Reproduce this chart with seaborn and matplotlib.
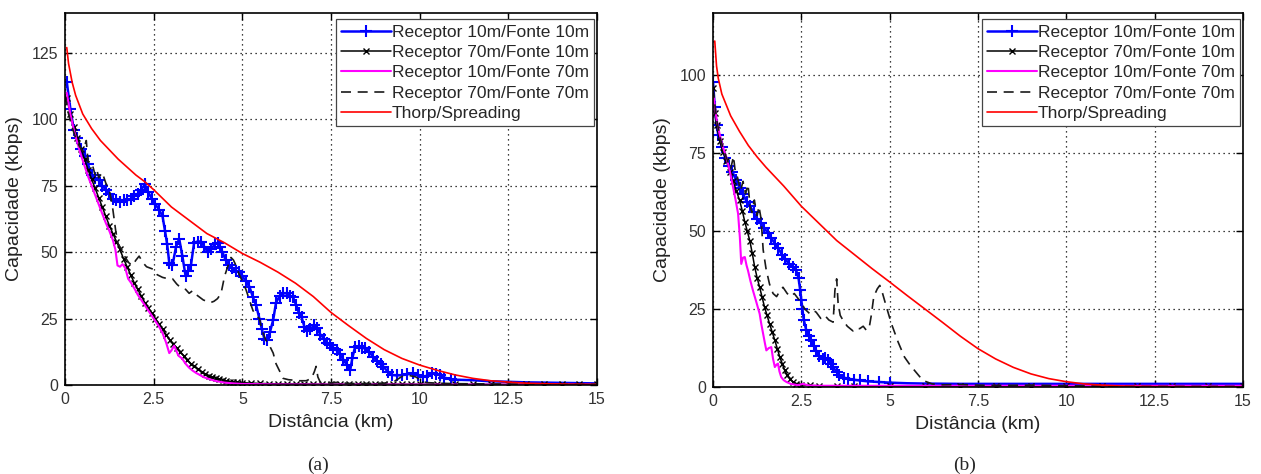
import numpy as np
import pandas as pd
import matplotlib
matplotlib.use("Agg")
import matplotlib.pyplot as plt
import seaborn as sns

# ---------------- data (a) ----------------
a_blue_x = [0.05,0.15,0.25,0.35,0.45,0.55,0.65,0.75,0.85,0.95,1.05,1.15,1.25,1.35,1.45,1.55,1.65,1.75,1.85,1.95,
            2.05,2.15,2.25,2.35,2.45,2.55,2.65,2.75,2.82,2.88,2.94,3.03,3.13,3.22,3.31,3.40,3.48,3.55,3.64,3.74,
            3.83,3.93,4.02,4.12,4.22,4.30,4.37,4.44,4.53,4.63,4.72,4.82,4.92,5.0,5.1,5.2,5.3,5.39,5.48,5.55,
            5.62,5.7,5.78,5.87,5.95,6.05,6.15,6.25,6.35,6.43,6.52,6.6,6.67,6.75,6.82,6.92,7.02,7.1,7.2,7.3,
            7.38,7.48,7.57,7.66,7.75,7.85,7.95,8.04,8.1,8.18,8.28,8.37,8.46,8.57,8.69,8.8,8.9,8.98,9.1,9.21,
            9.35,9.5,9.65,9.82,9.95,10.1,10.2,10.35,10.45,10.58,10.7,10.87,11.0,11.25,11.5,11.75,12.0,12.5,13.0,13.5,
            14.0,14.5,15.0]
a_blue_y = [114,104,96,93,89,86,83,79,78,77,75,73.5,72,70,69.5,69,69.5,69.5,70,71,
            72,73.5,75.5,72.5,70,68,66,63.5,58,53,46,45,52,55,48.5,41,43,45,53.5,54,
            54,52,50,51,53,53.5,52,50,47,45,44,43,42.5,41,39,37,33,30,25,21,
            17.5,17,20,24.5,31,33.5,34.5,34.5,33.5,33,30,27,25.5,22,20.5,21,22.5,21.5,19,17.5,
            15.8,15,14,13,11.5,9.5,7.5,5.5,10,14.4,14.5,14,13.8,12.5,10.6,9,7.8,6.9,5,3.8,
            3.6,3.7,4,4.4,3.8,3.0,3.5,4.4,4.2,3.7,2.8,2.1,2.0,1.9,1.8,1.6,1.4,1.2,1.0,0.9,
            0.8,0.7,0.6]

a_black_x = [0.05,0.15,0.25,0.35,0.45,0.55,0.65,0.75,0.85,0.95,1.05,1.15,1.25,1.35,1.45,1.55,1.65,1.75,1.85,1.95,
             2.05,2.15,2.25,2.35,2.45,2.55,2.65,2.75,2.85,2.95,3.05,3.15,3.25,3.35,3.45,3.55,3.65,3.75,3.85,3.95,
             4.05,4.15,4.25,4.35,4.45,4.55,4.65,4.75,4.85,5.0,5.25,5.5,5.75,6.0,6.25,6.5,6.75,7.0,7.25,7.5,
             7.75,8.0,8.25,8.5,8.75,9.0,9.25,9.5,9.75,10.0,10.5,11.0,11.5,12.0,12.5,13.0,13.5,14.0,14.5,15.0]
a_black_y = [108,102,97,93,89,85,81,77.5,74,70.5,67,63.5,60,57,54,51,47.5,44.5,41.5,38.5,
             36,33.5,31,29,27,25,23,21,19,17,15.5,14,12.5,11,9.5,8,7,6,5,4.2,
             3.5,3,2.5,2.1,1.8,1.5,1.3,1.1,1.0,0.9,0.7,0.6,0.5,0.45,0.4,0.4,0.35,0.35,0.3,0.3,
             0.3,0.3,0.3,0.3,0.3,0.3,0.3,0.3,0.3,0.3,0.25,0.25,0.25,0.25,0.25,0.25,0.25,0.25,0.25,0.25]

a_mag_x = [0.05,0.15,0.25,0.35,0.45,0.55,0.65,0.75,0.85,0.95,1.05,1.15,1.25,1.35,1.42,1.48,1.55,1.62,1.7,1.78,
           1.86,1.95,2.05,2.15,2.25,2.35,2.45,2.55,2.65,2.75,2.85,2.94,3.0,3.08,3.15,3.2,3.3,3.4,3.5,3.6,
           3.7,3.8,3.9,4.07,4.25,4.5,4.75,5.0,5.5,6.0,8.0,10.0,12.0,15.0]
a_mag_y = [110,102,96,91,86.5,82.5,78.5,75,71.5,68,64.5,61,58,54.5,51,45,44.5,45.5,44,40,
           38.5,36.5,34,32,30,28,26,24,22,19.5,16,12,13,14.8,12.5,11,10,8,6.5,5.4,
           4.5,3.8,3,2.2,1.5,0.9,0.6,0.4,0.3,0.2,0.15,0.15,0.15,0.15]

a_dash_x = [0.0,0.1,0.2,0.3,0.4,0.5,0.6,0.65,0.75,0.85,0.9,0.95,1.05,1.15,1.25,1.35,1.43,1.5,1.6,1.7,
            1.8,1.9,2.0,2.09,2.2,2.3,2.4,2.5,2.6,2.75,2.9,3.03,3.15,3.27,3.4,3.5,3.6,3.7,3.8,3.9,
            4.0,4.1,4.2,4.3,4.4,4.5,4.6,4.68,4.75,4.82,4.9,5.0,5.1,5.2,5.3,5.4,5.48,5.57,5.66,5.76,
            5.87,5.95,6.06,6.15,6.3,6.45,6.6,6.8,6.95,7.03,7.08,7.13,7.2,7.4,7.7,8.0,8.3,8.6,9.0,9.3,
            9.5,9.7,9.9,10.05,10.2,10.5,11.0,12.0,13.0,14.0,15.0]
a_dash_y = [109,102,97,93,90,88,92,84,84,79,81,78,80,76,73.5,66,58,53,51,48,
            46,45,47,48.5,46,44.5,44,43.5,41.5,40.5,40,40,38,36.5,36,34.5,35.5,34,33,32,
            31.5,31,31.5,32.5,34.5,41,45,48,47,45,42,39,36,32,28,26,25,20,17,15,
            12,8,5,2.5,2,1.8,1.6,1.6,2.5,5,7,3,1,0.8,1,0.6,0.5,0.6,0.7,1.5,
            3.2,3.6,3.0,1.5,0.9,0.7,0.5,0.4,0.3,0.3,0.3]

a_red_x = [0.05,0.1,0.2,0.3,0.5,0.75,1.0,1.25,1.5,1.75,2.0,2.25,2.5,3.0,3.5,4.0,4.5,5.0,5.5,6.0,
           6.5,7.0,7.5,8.0,8.5,9.0,9.5,10.0,10.5,11.0,11.5,12.0,12.5,13.0,13.5,14.0,14.5,15.0]
a_red_y = [127,121,114,109,102,96.5,92,88.5,85,82,79,76.5,73.5,67,62,57,53.5,49.5,46.2,42.5,
           38.3,33.3,27.3,22.3,17.5,13.3,10.0,7.5,5.5,3.8,2.5,1.6,1.1,0.7,0.5,0.35,0.25,0.2]

# ---------------- data (b) ----------------
b_blue_x = [0.0,0.05,0.1,0.15,0.25,0.35,0.45,0.55,0.65,0.75,0.85,0.95,1.05,1.15,1.25,1.35,1.45,1.55,1.65,1.75,
            1.85,1.95,2.05,2.15,2.25,2.35,2.42,2.47,2.5,2.53,2.57,2.64,2.71,2.78,2.85,2.92,3.0,3.1,3.18,3.25,
            3.33,3.4,3.5,3.58,3.7,3.82,4.0,4.15,4.4,4.7,5.0,5.5,6.0,7.0,8.0,9.0,10.0,11.0,12.0,13.0,
            14.0,15.0]
b_blue_y = [98,90,84,81,77,73.5,71,69,66.5,64,62,59.5,58,56,54,52.5,51,49.5,47.8,46,
            44.5,42.5,41,39.5,38.5,37.5,35,31,27.8,25,21.5,18.2,16.5,15,13.2,11.7,10,9,9.2,8.8,
            7.5,6.4,4.8,3.7,3.0,2.7,2.3,2.1,1.8,1.6,1.4,1.2,1.1,1.0,1.0,1.0,1.0,1.0,1.0,1.0,
            1.0,1.0]

b_black_x = [0.0,0.05,0.1,0.19,0.28,0.38,0.48,0.57,0.66,0.75,0.83,0.9,0.97,1.04,1.11,1.18,1.25,1.32,1.39,1.46,
             1.53,1.6,1.68,1.75,1.82,1.89,1.96,2.03,2.1,2.17,2.26,2.36,2.5,2.75,3.0,3.5,4.0,5.0,6.0,7.0,
             8.0,9.0,10.0,11.0,12.0,13.0,14.0,15.0]
b_black_y = [96,88,84,79,75.5,72.6,69,66,63,60,56.5,53,50,47,43,38.5,35,32,28.8,25.6,
             23,20.3,17.5,15,12.3,9.6,7.5,5.3,3.8,2.7,1.7,1.1,0.7,0.5,0.4,0.3,0.3,0.3,0.3,0.3,
             0.3,0.3,0.3,0.3,0.3,0.3,0.3,0.3]

b_mag_x = [0.02,0.1,0.19,0.28,0.38,0.48,0.57,0.64,0.71,0.76,0.8,0.85,0.9,0.95,0.99,1.06,1.13,1.22,1.32,1.37,
           1.42,1.47,1.51,1.58,1.65,1.7,1.75,1.8,1.84,1.88,1.93,2.0,2.08,2.2,2.4,2.55,2.7,3.0,4.0,6.0,
           8.0,10.0,12.0,15.0]
b_mag_y = [93,86,81,77,73.7,69,64,60,55.6,48,39.5,41.5,41.7,39,37.4,34,31,27.5,23.5,20,
           17,14,11.75,12.5,12.8,9,6.4,7.2,7.5,5,3.2,2.2,1.6,1.0,0.6,1.0,0.5,0.4,0.4,0.4,
           0.4,0.4,0.4,0.4]

b_dash_x = [0.0,0.1,0.2,0.3,0.4,0.5,0.58,0.62,0.7,0.78,0.85,0.92,0.99,1.05,1.1,1.17,1.25,1.3,1.36,1.42,
            1.5,1.6,1.7,1.8,1.9,1.98,2.1,2.2,2.3,2.4,2.5,2.6,2.74,2.85,2.92,3.05,3.16,3.28,3.4,3.45,
            3.5,3.54,3.6,3.68,3.8,3.96,4.05,4.15,4.25,4.34,4.42,4.48,4.55,4.65,4.72,4.8,4.9,5.05,5.24,5.42,
            5.55,5.66,5.8,5.94,6.2,6.5,7.0,7.5,8.0,9.0,10.0,11.0,12.0,15.0]
b_dash_y = [96,86,80,76,73,70,74,70,67,63,66,62,65,58,56,60,55,58,54,44,
            38,33,30,29,31,32,30,29,30,28.5,27,25,23.5,24.5,24,22,23,21.5,20.8,31,
            34.7,27,23,21.4,19.5,18,19,18.7,19.5,18.2,19,23,29,31.5,32.6,30,26,20.3,14.4,9.6,
            7.5,5.9,4,2.1,1,0.7,0.8,0.6,0.5,0.6,0.4,0.3,0.2,0.2]

b_red_x = [0.05,0.1,0.15,0.25,0.5,0.75,1.0,1.25,1.5,2.0,2.5,3.0,3.5,4.0,4.5,5.0,5.5,6.0,6.5,7.0,
           7.5,8.0,8.5,9.0,9.5,10.0,10.5,11.0,11.5,12.0,13.0,14.0,15.0]
b_red_y = [111,103,99,94,87,82,77.5,73.8,70.5,64.5,58,52.5,47,42.5,38,33.7,29.3,25,20.7,16.3,
           12.3,9,6.3,4.2,2.7,1.7,1.0,0.6,0.35,0.2,0.1,0.05,0.05]

labels = ["Receptor 10m/Fonte 10m", "Receptor 70m/Fonte 10m", "Receptor 10m/Fonte 70m",
          "Receptor 70m/Fonte 70m", "Thorp/Spreading"]
x_ticks = [0, 2.5, 5, 7.5, 10, 12.5, 15]
x_ticklabels = ["0", "2.5", "5", "7.5", "10", "12.5", "15"]
a_yticks = [0, 25, 50, 75, 100, 125]
b_yticks = [0, 25, 50, 75, 100]

# ---------------- style ----------------
sns.set_theme(style="white")
plt.rcParams["font.family"] = ["Liberation Sans", "DejaVu Sans"]
plt.rcParams["lines.scale_dashes"] = True

fig = plt.figure(figsize=(12.61, 4.74), dpi=100)
ax_a = fig.add_axes([65/1261, 1-385/474, (597-65)/1261, (385-13)/474])
ax_b = fig.add_axes([713/1261, 1-387/474, (1243-713)/1261, (387-13)/474])


def draw(ax, series, ymax, yticks, blue_cut):
    bx, by, kx, ky, mx, my, dx, dy, rx, ry = series
    mark = [x <= blue_cut for x in bx]
    sns.lineplot(x=bx, y=by, ax=ax, color="#0000ff", lw=1.8, marker="+", markersize=9,
                 markeredgewidth=1.5, markeredgecolor="#0000ff", markevery=mark,
                 estimator=None, sort=False, label=labels[0])
    sns.lineplot(x=kx, y=ky, ax=ax, color="black", lw=1.1, marker="x", markersize=4.2,
                 markeredgewidth=1.0, markeredgecolor="black",
                 estimator=None, sort=False, label=labels[1])
    sns.lineplot(x=mx, y=my, ax=ax, color="#ff00ff", lw=1.5, estimator=None, sort=False,
                 label=labels[2])
    sns.lineplot(x=dx, y=dy, ax=ax, color="#1a1a1a", lw=1.2, linestyle=(0, (6, 4)),
                 estimator=None, sort=False, label=labels[3])
    sns.lineplot(x=rx, y=ry, ax=ax, color="#ff0000", lw=1.2, estimator=None, sort=False,
                 label=labels[4])
    ax.set_xlim(0, 15)
    ax.set_ylim(0, ymax)
    ax.set_xticks(x_ticks)
    ax.set_xticklabels(x_ticklabels)
    ax.set_yticks(yticks)
    ax.grid(True, color="black", linestyle=(0, (1, 3)), lw=0.9)
    ax.tick_params(direction="in", length=5, width=1, top=True, right=True,
                   labelsize=11.5, labelcolor="#333333", color="black", pad=5,
                   bottom=True, left=True)
    for s in ax.spines.values():
        s.set_color("black")
        s.set_linewidth(1.2)
    ax.set_xlabel("Distância (km)", fontsize=14, color="#222222", labelpad=5)
    ax.set_ylabel("Capacidade (kbps)", fontsize=14, color="#222222", labelpad=6)
    leg = ax.legend(loc="upper right", bbox_to_anchor=(0.995, 0.983), fontsize=12.5,
                    frameon=True, fancybox=False, framealpha=1, edgecolor="#444444",
                    handlelength=2.9, handletextpad=0.05, labelspacing=0.3,
                    borderpad=0.3, borderaxespad=0, numpoints=1)
    leg.get_frame().set_linewidth(0.9)


draw(ax_a, (a_blue_x, a_blue_y, a_black_x, a_black_y, a_mag_x, a_mag_y,
            a_dash_x, a_dash_y, a_red_x, a_red_y), 140, a_yticks, 11.0)
draw(ax_b, (b_blue_x, b_blue_y, b_black_x, b_black_y, b_mag_x, b_mag_y,
            b_dash_x, b_dash_y, b_red_x, b_red_y), 120, b_yticks, 5.0)

fig.text(318/1261, 1-465/474, "(a)", ha="center", va="center", fontsize=14,
         family=["Liberation Serif", "DejaVu Serif"])
fig.text(965/1261, 1-465/474, "(b)", ha="center", va="center", fontsize=14,
         family=["Liberation Serif", "DejaVu Serif"])

fig.savefig("out.png", dpi=100)
